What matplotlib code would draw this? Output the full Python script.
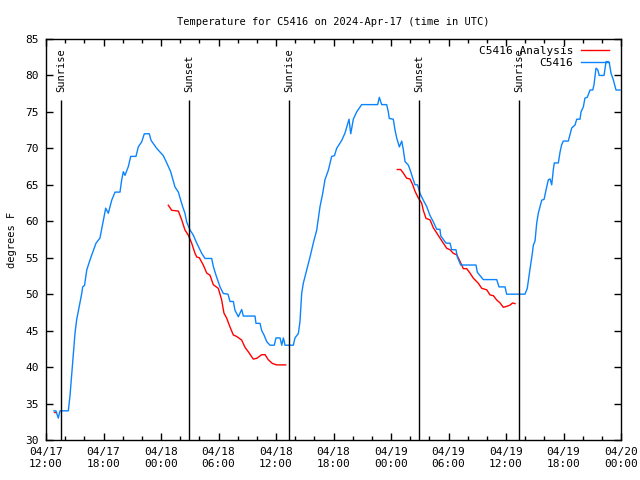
import matplotlib
matplotlib.use("Agg")
import matplotlib.pyplot as plt
import matplotlib.dates as mdates
import pandas as pd

base = pd.Timestamp("2024-04-17 12:00")

# observed C5416 (hours after 04/17 12:00 UTC, degrees F)
obs_hours = [0.83, 1.04, 1.28, 1.46, 2.33, 2.50, 2.68, 2.85, 3.03, 3.20, 3.47, 3.73, 3.83, 4.02,
             4.25, 4.59, 4.94, 5.22, 5.63, 5.92, 6.23, 6.50, 6.86, 7.20, 7.72, 7.90, 8.07, 8.24,
             8.59, 8.84, 9.39, 9.63, 9.99, 10.26, 10.78, 10.96, 11.55, 12.24, 12.60, 13.01, 13.46,
             13.81, 14.26, 14.50, 14.68, 15.03, 15.37, 15.73, 16.25, 16.59, 17.29, 17.46, 17.74,
             18.16, 18.50, 18.99, 19.20, 19.55, 19.72, 20.07, 20.42, 20.59, 21.81, 21.91, 22.33,
             22.51, 22.75, 23.03, 23.37, 23.82, 24.00, 24.42, 24.60, 24.77, 24.94, 25.81, 25.98,
             26.33, 26.50, 26.68, 26.85, 27.20, 27.55, 27.89, 28.25, 28.59, 28.87, 29.11, 29.46,
             29.81, 30.10, 30.33, 30.86, 31.20, 31.44, 31.62, 31.80, 32.07, 32.42, 32.94, 34.61,
             34.78, 35.03, 35.55, 35.72, 35.82, 36.24, 36.42, 36.60, 36.87, 37.12, 37.29, 37.46,
             37.81, 38.06, 38.27, 38.51, 38.77, 39.03, 39.37, 39.73, 40.07, 40.42, 40.77, 41.11,
             41.19, 41.74, 42.16, 42.33, 42.78, 42.92, 43.27, 44.87, 45.01, 45.63, 47.03, 47.27,
             47.90, 48.07, 49.98, 50.22, 50.51, 50.75, 50.85, 51.03, 51.20, 51.37, 51.55, 51.73,
             51.97, 52.18, 52.42, 52.60, 52.77, 52.94, 53.04, 53.46, 53.64, 53.81, 53.98, 54.50,
             54.68, 54.86, 55.20, 55.38, 55.72, 55.83, 56.07, 56.24, 56.48, 56.77, 57.05, 57.18,
             57.39, 57.57, 57.73, 58.23, 58.44, 58.68, 58.78, 58.96, 59.20, 59.48, 59.90]
obs_temps = [34, 34, 33, 34, 34, 36, 39, 42, 44.7, 46.5, 48.3, 50.1, 51, 51.2,
             53.3, 54.7, 56, 57, 57.7, 59.7, 61.8, 61.1, 62.9, 64, 64, 65.7, 66.8, 66.3,
             67.5, 68.9, 68.9, 70.2, 70.9, 72, 72, 71.1, 70, 69, 68, 66.8, 64.7,
             64, 62, 61.1, 59.9, 58.8, 58.1, 57, 55.6, 54.9, 54.9, 53.8, 52.6,
             51, 50.1, 50, 49, 49, 47.8, 46.9, 47.9, 47, 47, 46, 46,
             45, 44.4, 43.5, 43, 43, 44, 44, 43, 44, 43, 43, 44,
             44.6, 46.2, 50.1, 51.5, 53.3, 55.1, 57, 58.8, 62, 63.8, 65.7, 67,
             68.9, 69, 70, 71.1, 72.1, 73.2, 74, 72, 74, 75, 76, 76,
             77, 76, 76, 75, 74.1, 74, 72.5, 71.4, 70.2, 71, 69.8, 68.2,
             67.7, 66.8, 65.9, 65, 65, 63.8, 62.9, 62, 60.8, 59.9, 58.9, 58.9,
             58, 57, 57, 56.1, 56.1, 55.1, 54, 54, 53, 52, 52, 51,
             51, 50, 50, 50.8, 53.5, 55.6, 56.7, 57.3, 59.7, 61.1, 62, 62.9,
             63, 64.3, 65.7, 65.8, 65, 67.1, 68, 68, 69.5, 70.5, 71, 71,
             71.9, 72.8, 73.2, 74, 74, 75, 75.7, 76.9, 77, 78, 78, 78.7,
             81, 80.8, 80, 80, 81.9, 81.9, 81.7, 80.3, 79.4, 78, 78]

# analysis segments
ana1_hours = [0.83, 1.0]
ana1_temps = [33.8, 33.8]
ana2_hours = [12.76, 13.12, 13.81, 14.16, 14.50, 14.85, 15.20, 15.55, 15.73, 16.00, 16.41, 16.77,
              17.11, 17.46, 17.98, 18.33, 18.57, 18.86, 19.20, 19.55, 19.90, 20.42, 20.77, 21.11,
              21.63, 21.99, 22.51, 22.86, 23.20, 23.62, 24.07, 25.01]
ana2_temps = [62.2, 61.5, 61.4, 60.2, 58.8, 58.1, 57, 55.6, 55.1, 55.0, 54, 52.9,
              52.6, 51.3, 50.8, 49.2, 47.4, 46.7, 45.5, 44.4, 44.2, 43.7, 42.7, 42.1,
              41.1, 41.2, 41.7, 41.7, 41, 40.5, 40.3, 40.3]
ana3_hours = [36.66, 37.01, 37.29, 37.64, 37.98, 38.27, 38.51, 38.85, 39.20, 39.37, 39.65, 40.07,
              40.42, 40.77, 41.11, 41.46, 41.81, 42.16, 42.50, 42.86, 43.13, 43.55, 43.90, 44.24,
              44.59, 45.11, 45.47, 45.99, 46.33, 46.68, 47.03, 47.38, 47.72, 48.00, 48.42, 48.69,
              48.94]
ana3_temps = [67.1, 67.1, 66.6, 65.9, 65.8, 65, 64.1, 63.2, 62.5, 61.5, 60.4, 60.2,
              59.1, 58.4, 57.7, 57, 56.3, 56.1, 55.6, 55.4, 54.7, 53.5, 53.5, 52.9,
              52.2, 51.5, 50.8, 50.6, 49.9, 49.8, 49.2, 48.8, 48.2, 48.3, 48.5, 48.8,
              48.7]

sun_hours = [1.55, 14.96, 25.39, 38.96, 49.39]
sun_labels = ["Sunrise", "Sunset", "Sunrise", "Sunset", "Sunrise"]

def to_time(hours):
    return [base + pd.Timedelta(hours=h) for h in hours]

FONT = "DejaVu Sans Mono"
FS = 7.5
BLUE = "#0a84ff"
RED = "#ff0000"

fig = plt.figure(figsize=(6.4, 4.8), dpi=100)
ax = fig.add_axes([46/640, 40/480, 575/640, 401/480])

for i, (h, t) in enumerate([(ana1_hours, ana1_temps), (ana2_hours, ana2_temps), (ana3_hours, ana3_temps)]):
    ax.plot(to_time(h), t, color=RED, lw=1, label="C5416 Analysis" if i == 0 else None)
ax.plot(to_time(obs_hours), obs_temps, color=BLUE, lw=1, label="C5416")

sun_t = to_time(sun_hours)
ax.vlines(sun_t, 30, 76.7, color="black", lw=1)
for t, lab in zip(sun_t, sun_labels):
    ax.text(t, 77.7, lab, rotation=90, ha="center", va="bottom", fontsize=FS, family=FONT)

ax.set_xlim(base, base + pd.Timedelta(hours=60))
ax.set_ylim(30, 85)
ax.set_yticks(range(30, 86, 5))
ax.xaxis.set_major_locator(mdates.HourLocator(byhour=[0, 6, 12, 18]))
ax.xaxis.set_minor_locator(mdates.HourLocator(interval=2))
ax.xaxis.set_major_formatter(mdates.DateFormatter("%m/%d\n%H:%M"))
ax.tick_params(which="both", direction="in", top=True, right=True, labelsize=FS, width=1)
ax.tick_params(which="major", length=5, pad=5)
ax.tick_params(which="minor", length=3)
for lab in ax.get_xticklabels() + ax.get_yticklabels():
    lab.set_family(FONT)
    lab.set_fontsize(FS + 0.5)
for s in ax.spines.values():
    s.set_linewidth(1)

ax.set_ylabel("degrees F", fontsize=FS, family=FONT, labelpad=6)
ax.set_title("Temperature for C5416 on 2024-Apr-17 (time in UTC)", fontsize=FS, family=FONT, pad=10)

ax.legend(loc="upper right", bbox_to_anchor=(0.99, 1.0), frameon=False, markerfirst=False,
          prop={"family": FONT, "size": FS + 0.5},
          handlelength=2.5, handletextpad=0.7, labelspacing=0.2, borderaxespad=0.2, borderpad=0.4)

fig.savefig("out.png", dpi=100)
